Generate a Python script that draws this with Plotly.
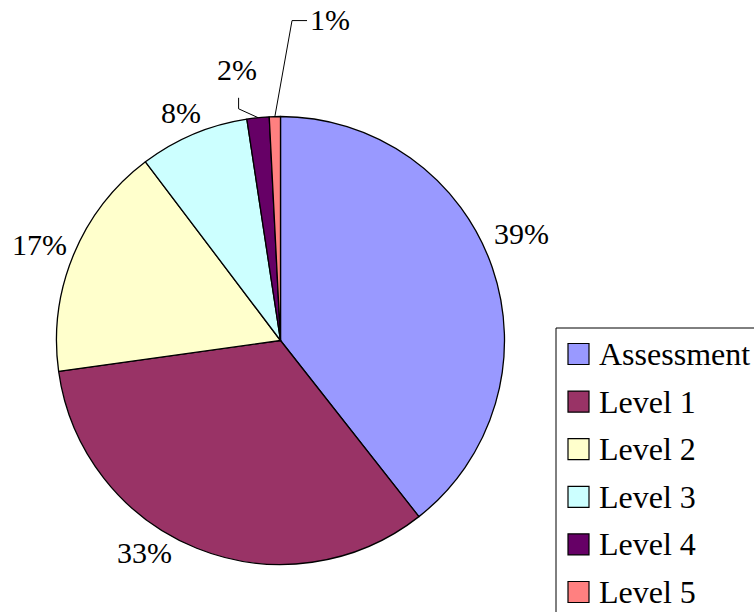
import math
import plotly.graph_objects as go

# ---- data ----
categories = ["Assessment", "Level 1", "Level 2", "Level 3", "Level 4", "Level 5"]
shares = [39.4, 33.4, 16.9, 7.9, 1.6, 0.8]
colors = ["#9999FF", "#993366", "#FFFFCC", "#CCFFFF", "#660066", "#FF8080"]

# ---- layout constants (pixels) ----
W, H = 754, 612
CX, CY, R = 280.5, 340.5, 224
LABEL_R = 258
FONT = "Liberation Serif"
SPAN = "<span style='font-family:Liberation Serif, Times New Roman, serif'>{}</span>"
label_nudge = [(-3, -23), (-40, -27), (-3, 3), (1, 10), (-18, -14), (56, -63)]
# leader lines: (end offset from label centre, elbow offset from label centre)
leaders = [None, None, None, None, ((2, 28), (2, 39)), ((-23, 1), (-38, 1))]


def px(x):
    return x / W


def py(y):
    return 1 - y / H


fig = go.Figure()
fig.add_trace(go.Pie(
    labels=categories,
    values=shares,
    sort=False,
    direction="clockwise",
    rotation=0,
    marker=dict(colors=colors, line=dict(color="black", width=1.3)),
    textinfo="none",
    hoverinfo="label+percent",
    showlegend=False,
    domain=dict(x=[px(CX - R), px(CX + R)], y=[py(CY + R), py(CY - R)]),
))

total = sum(shares)
annotations = []
shapes = []
cum = 0.0
for i, v in enumerate(shares):
    mid = (cum + v / 2) / total * 2 * math.pi
    cum += v
    sx, sy = math.sin(mid), math.cos(mid)
    lx = CX + LABEL_R * sx + label_nudge[i][0]
    ly = CY - LABEL_R * sy + label_nudge[i][1]
    annotations.append(dict(
        x=px(lx), y=py(ly), xref="paper", yref="paper",
        text=SPAN.format(f"{round(v / total * 100):.0f}%"), showarrow=False,
        xanchor="center", yanchor="middle",
        font=dict(family=FONT, size=30, color="black"),
    ))
    if leaders[i] is not None:
        (ex, ey), (bx, by) = leaders[i]
        ox, oy = CX + R * sx, CY - R * sy
        path = (f"M {px(ox)} {py(oy)} L {px(lx + bx)} {py(ly + by)} "
                f"L {px(lx + ex)} {py(ly + ey)}")
        shapes.append(dict(type="path", xref="paper", yref="paper", path=path,
                           line=dict(color="black", width=1)))

# ---- manual legend ----
LEG_X0, LEG_Y0 = 556, 328
shapes.append(dict(type="rect", xref="paper", yref="paper",
                   x0=px(LEG_X0), y0=py(LEG_Y0), x1=px(W + 40), y1=py(H + 40),
                   line=dict(color="black", width=1), fillcolor="white", layer="below"))
for i, (cat, col) in enumerate(zip(categories, colors)):
    cy = 354 + i * 47.6
    shapes.append(dict(type="rect", xref="paper", yref="paper",
                       x0=px(568), x1=px(589), y0=py(cy - 10.5), y1=py(cy + 10.5),
                       fillcolor=col, line=dict(color="black", width=1.2)))
    annotations.append(dict(
        x=px(597), y=py(cy), xref="paper", yref="paper", text=SPAN.format(cat),
        showarrow=False, xanchor="left", yanchor="middle",
        font=dict(family=FONT, size=32, color="black"),
    ))

fig.update_layout(
    width=W, height=H,
    margin=dict(l=0, r=0, t=0, b=0),
    font=dict(family=FONT, color="black"),
    paper_bgcolor="white", plot_bgcolor="white",
    xaxis=dict(visible=False), yaxis=dict(visible=False),
    annotations=annotations, shapes=shapes,
    showlegend=False,
)

fig.write_html("out.html")
